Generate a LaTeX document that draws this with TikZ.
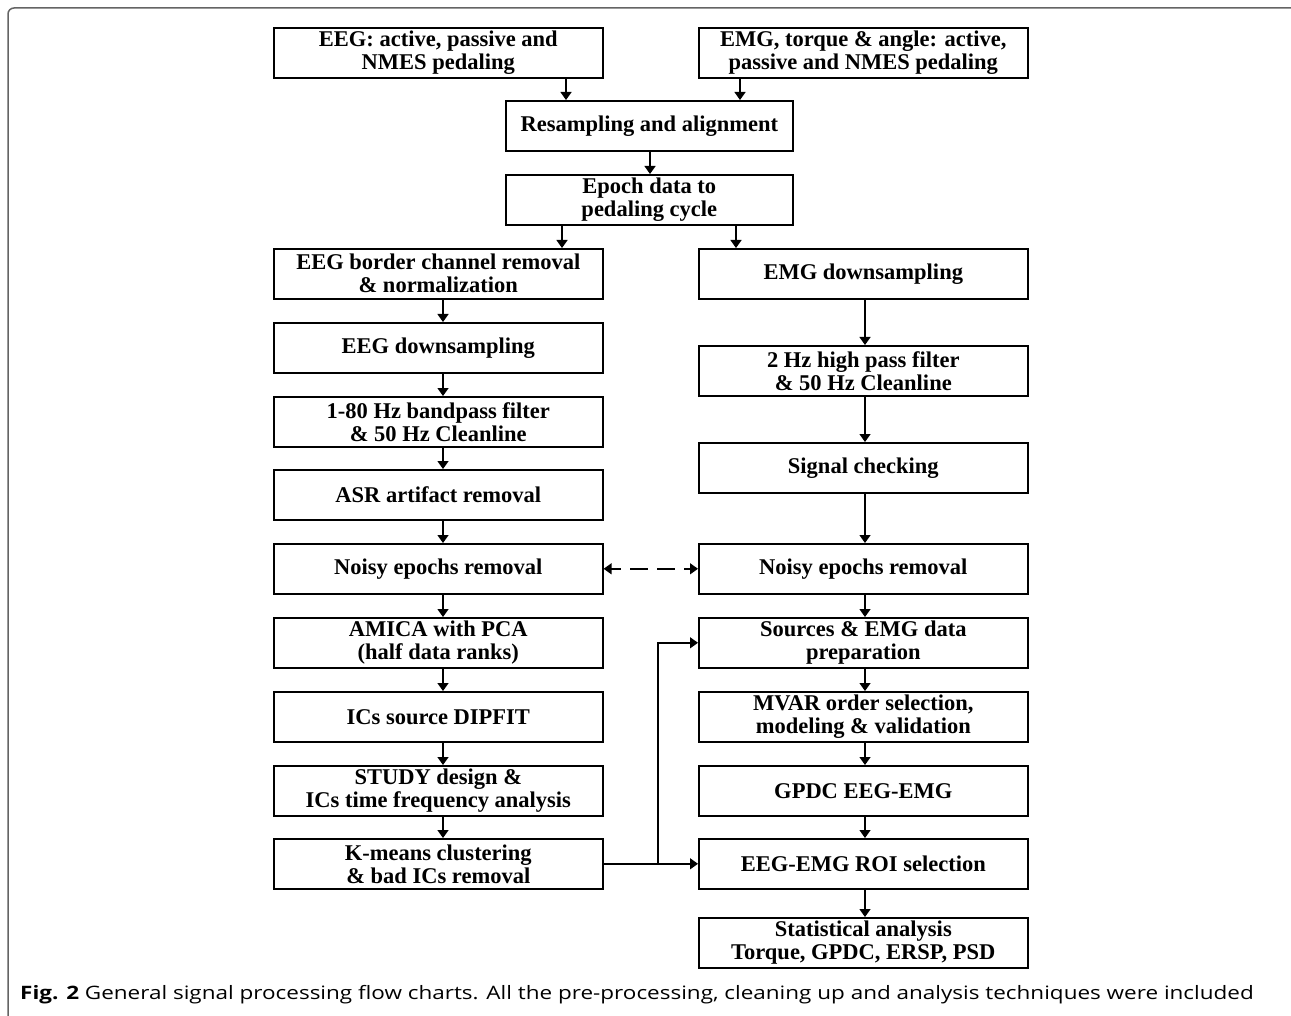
\documentclass[tikz,border=0pt]{standalone}
\usepackage{fontspec}
\setmainfont{Liberation Serif}
\newfontfamily\capfont[FakeStretch=1.215]{Open Sans}
\usetikzlibrary{arrows.meta,calc}
\definecolor{framegray}{RGB}{100,100,100}
\begin{document}
\begin{tikzpicture}[x=1pt,y=-1pt,
  box/.style={draw=black, line width=1.6pt, minimum width=329pt, minimum height=50pt,
    inner sep=0pt, align=center, anchor=north west,
    font=\bfseries\fontsize{22.5}{23}\selectfont},
  tip/.tip={Triangle[length=8pt,width=11pt]},
  arr/.style={line width=1.4pt, -tip},
  dasharr/.style={line width=1.4pt, tip-tip, dash pattern=on 18pt off 9pt, dash phase=8pt},
]
\useasboundingbox (0,0) rectangle (1291,1016);
\draw[framegray, line width=1.5pt, rounded corners=6pt] (8,1016) -- (8,8) -- (1291,8);

\node[box] (eegin) at (273,27) {EEG: active, passive and\\NMES pedaling};
\node[box] (emgin) at (698,27) {EMG, torque \& angle: active,\\passive and NMES pedaling};
\node[box, minimum width=287pt] (resamp) at (505,100) {Resampling and alignment};
\node[box, minimum width=287pt] (epoch) at (505,174) {Epoch data to\\pedaling cycle};

\node[box] (l1) at (273,248) {EEG border channel removal\\\& normalization};
\node[box] (l2) at (273,322) {EEG downsampling};
\node[box] (l3) at (273,396) {1-80 Hz bandpass filter\\\& 50 Hz Cleanline};
\node[box] (l4) at (273,469) {ASR artifact removal};
\node[box] (l5) at (273,543) {Noisy epochs removal};
\node[box] (l6) at (273,617) {AMICA with PCA\\(half data ranks)};
\node[box] (l7) at (273,691) {ICs source DIPFIT};
\node[box] (l8) at (273,765) {STUDY design \&\\ICs time frequency analysis};
\node[box] (l9) at (273,838) {K-means clustering\\\& bad ICs removal};

\node[box] (r1) at (698,248) {EMG downsampling};
\node[box] (r2) at (698,345) {2 Hz high pass filter\\\& 50 Hz Cleanline};
\node[box] (r3) at (698,442) {Signal checking};
\node[box] (r4) at (698,543) {Noisy epochs removal};
\node[box] (r5) at (698,617) {Sources \& EMG data\\preparation};
\node[box] (r6) at (698,691) {MVAR order selection,\\modeling \& validation};
\node[box] (r7) at (698,765) {GPDC EEG-EMG};
\node[box] (r8) at (698,838) {EEG-EMG ROI selection};
\node[box] (r9) at (698,917) {Statistical analysis\\Torque, GPDC, ERSP, PSD};

\coordinate (xa) at (566,0);
\coordinate (xb) at (740,0);
\coordinate (xc) at (650,0);
\coordinate (xd) at (562,0);
\coordinate (xe) at (736,0);
\coordinate (xl) at (443,0);
\coordinate (xr) at (865,0);
\coordinate (xf) at (658,0);

\draw[arr] (eegin.south -| xa) -- (resamp.north -| xa);
\draw[arr] (emgin.south -| xb) -- (resamp.north -| xb);
\draw[arr] (resamp.south -| xc) -- (epoch.north -| xc);
\draw[arr] (epoch.south -| xd) -- (l1.north -| xd);
\draw[arr] (epoch.south -| xe) -- (r1.north -| xe);

\foreach \a/\b in {l1/l2,l2/l3,l3/l4,l4/l5,l5/l6,l6/l7,l7/l8,l8/l9}
  \draw[arr] (\a.south -| xl) -- (\b.north -| xl);
\foreach \a/\b in {r1/r2,r2/r3,r3/r4,r4/r5,r5/r6,r6/r7,r7/r8,r8/r9}
  \draw[arr] (\a.south -| xr) -- (\b.north -| xr);

\draw[dasharr] (l5.east) -- (r4.west);
\draw[arr] (l9.east) -- (r8.west);
\draw[arr] (l9.east -| xf) |- (r5.west);

\node[anchor=base west, inner sep=0pt, font=\capfont\fontsize{18.5}{22}\selectfont] (cap) at (20,999)
  {\textbf{Fig. 2} General signal processing flow charts. All the pre-processing, cleaning up and analysis techniques were included};
\end{tikzpicture}
\end{document}
